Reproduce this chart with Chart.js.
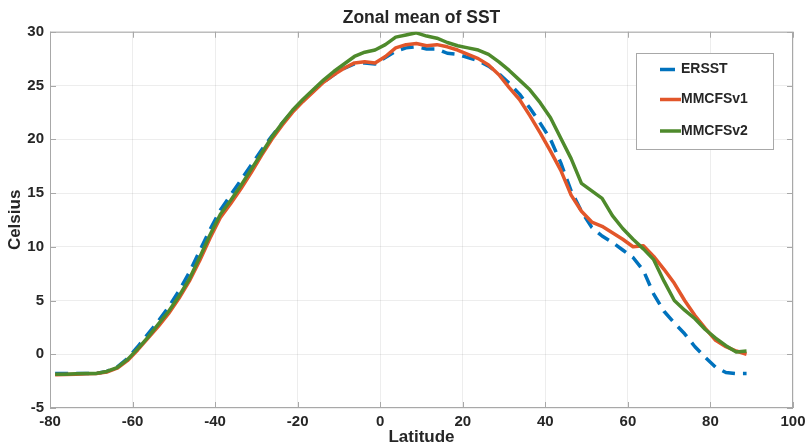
<!DOCTYPE html>
<html>
<head>
<meta charset="utf-8">
<script src="https://cdn.jsdelivr.net/npm/chart.js@4/dist/chart.umd.min.js"></script>
<style>
  html, body { margin: 0; padding: 0; background: #fff; }
  #wrap { width: 807px; height: 445px; }
</style>
</head>
<body>
<div id="wrap"><canvas id="chart1" width="807" height="445"></canvas></div>
<script>
// latitude grid (2.5 deg)
var latitude = [
  -78.75, -76.25, -73.75, -71.25, -68.75, -66.25, -63.75, -61.25, -58.75, -56.25,
  -53.75, -51.25, -48.75, -46.25, -43.75, -41.25, -38.75, -36.25, -33.75, -31.25,
  -28.75, -26.25, -23.75, -21.25, -18.75, -16.25, -13.75, -11.25, -8.75, -6.25,
  -3.75, -1.25, 1.25, 3.75, 6.25, 8.75, 11.25, 13.75, 16.25, 18.75,
  21.25, 23.75, 26.25, 28.75, 31.25, 33.75, 36.25, 38.75, 41.25, 43.75,
  46.25, 48.75, 51.25, 53.75, 56.25, 58.75, 61.25, 63.75, 66.25, 68.75,
  71.25, 73.75, 76.25, 78.75, 81.25, 83.75, 86.25, 88.75
];

var ersst = [
  -1.8, -1.8, -1.8, -1.8, -1.78, -1.6, -1.2, -0.4, 0.7, 1.9,
  3.1, 4.4, 5.9, 7.6, 9.6, 11.6, 13.4, 14.8, 16.2, 17.6,
  19.0, 20.3, 21.5, 22.6, 23.6, 24.5, 25.3, 26.0, 26.6, 27.0,
  27.1, 27.0, 27.6, 28.2, 28.5, 28.6, 28.4, 28.4, 28.0, 27.9,
  27.6, 27.3, 26.8, 26.1, 25.2, 24.2, 22.9, 21.5, 20.0, 17.8,
  15.2, 13.3, 11.8, 11.0, 10.4, 9.7, 9.0, 7.8, 5.6, 4.0,
  2.9, 1.9, 0.7, -0.3, -1.2, -1.7, -1.8, -1.8
];

var mmcfsv1 = [
  -1.9, -1.88, -1.85, -1.82, -1.8, -1.65, -1.3, -0.6, 0.4, 1.5,
  2.6, 3.8, 5.2, 6.8, 8.7, 10.8, 12.7, 14.0, 15.4, 16.9,
  18.5, 20.0, 21.3, 22.5, 23.5, 24.4, 25.3, 26.0, 26.6, 27.1,
  27.2, 27.1, 27.7, 28.5, 28.8, 28.9, 28.7, 28.8, 28.6, 28.3,
  27.9, 27.5, 26.9, 26.0, 24.8, 23.7, 22.2, 20.6, 18.9, 17.1,
  14.8, 13.3, 12.3, 11.9, 11.3, 10.7, 10.0, 10.1, 9.1, 7.9,
  6.6, 5.0, 3.6, 2.4, 1.3, 0.7, 0.3, 0.0
];

var mmcfsv2 = [
  -1.85, -1.85, -1.82, -1.8, -1.78, -1.6, -1.25, -0.5, 0.5, 1.6,
  2.8, 4.0, 5.4, 7.0, 9.0, 11.1, 13.0, 14.3, 15.7, 17.2,
  18.7, 20.2, 21.5, 22.7, 23.7, 24.6, 25.5, 26.3, 27.0, 27.7,
  28.1, 28.3, 28.8, 29.5, 29.7, 29.9, 29.6, 29.4, 29.0, 28.7,
  28.5, 28.3, 27.9, 27.2, 26.4, 25.5, 24.6, 23.4, 22.0, 20.1,
  18.2, 15.9, 15.2, 14.5, 12.9, 11.7, 10.7, 9.8, 8.8, 6.8,
  5.0, 4.1, 3.3, 2.3, 1.5, 0.8, 0.2, 0.3
];

var seriesNames = ['ERSST', 'MMCFSv1', 'MMCFSv2'];
var seriesColors = ['#0072BD', '#E2562A', '#4E8A2C'];
var textColor = '#262626';
var fontFamily = '"Liberation Sans", Arial, Helvetica, sans-serif';

function toPoints(values) {
    return values.map(function(v, i) { return { x: latitude[i], y: v }; });
}

// matlab style box with inward ticks
var boxPlugin = {
    id: 'boxPlugin',
    beforeDatasetsDraw: function(chart) {
        var ctx = chart.ctx, a = chart.chartArea;
        var xs = chart.scales.x, ys = chart.scales.y;
        ctx.save();
        ctx.strokeStyle = '#a8a8a8';
        ctx.lineWidth = 1;
        ctx.strokeRect(a.left + 0.5, a.top + 0.5, a.right - a.left - 1, a.bottom - a.top - 1);
        ctx.beginPath();
        xs.ticks.forEach(function(t) {
            var px = Math.round(xs.getPixelForValue(t.value)) + 0.5;
            ctx.moveTo(px, a.bottom); ctx.lineTo(px, a.bottom - 6);
            ctx.moveTo(px, a.top); ctx.lineTo(px, a.top + 6);
        });
        ys.ticks.forEach(function(t) {
            var py = Math.round(ys.getPixelForValue(t.value)) + 0.5;
            ctx.moveTo(a.left, py); ctx.lineTo(a.left + 6, py);
            ctx.moveTo(a.right, py); ctx.lineTo(a.right - 6, py);
        });
        ctx.stroke();
        ctx.restore();
    }
};

var legendPlugin = {
    id: 'boxLegend',
    afterDraw: function(chart) {
        var ctx = chart.ctx;
        var bx = 636, by = 53, bw = 137, bh = 96;
        ctx.save();
        ctx.fillStyle = '#fff';
        ctx.fillRect(bx, by, bw, bh);
        ctx.strokeStyle = '#a8a8a8';
        ctx.lineWidth = 1;
        ctx.strokeRect(bx + 0.5, by + 0.5, bw, bh);
        var rows = [69.5, 99.5, 131];
        chart.data.datasets.forEach(function(ds, i) {
            ctx.strokeStyle = ds.borderColor;
            ctx.lineWidth = 3.5;
            ctx.beginPath();
            if (i === 0) {
                ctx.moveTo(660, rows[i]); ctx.lineTo(675, rows[i]);
            } else {
                ctx.moveTo(660, rows[i]); ctx.lineTo(681, rows[i]);
            }
            ctx.stroke();
            ctx.fillStyle = textColor;
            ctx.font = 'bold 14px ' + fontFamily;
            ctx.textBaseline = 'middle';
            ctx.textAlign = 'left';
            ctx.fillText(ds.label, 681, rows[i]);
        });
        ctx.restore();
    }
};

new Chart(document.getElementById('chart1'), {
    type: 'line',
    data: {
        datasets: [
            { label: seriesNames[0], data: toPoints(ersst), borderColor: seriesColors[0], borderDash: [13, 8], order: 3 },
            { label: seriesNames[1], data: toPoints(mmcfsv1), borderColor: seriesColors[1], order: 2 },
            { label: seriesNames[2], data: toPoints(mmcfsv2), borderColor: seriesColors[2], order: 1 }
        ].map(function(ds) {
            ds.borderWidth = 3.5;
            ds.pointRadius = 0;
            ds.tension = 0;
            ds.fill = false;
            ds.borderJoinStyle = 'round';
            return ds;
        })
    },
    options: {
        responsive: false,
        animation: false,
        layout: { padding: { left: 0, right: 14, top: 0, bottom: 0 } },
        plugins: {
            legend: { display: false },
            tooltip: { enabled: false },
            title: {
                display: true,
                text: 'Zonal mean of SST',
                fullSize: false,
                color: textColor,
                font: { family: fontFamily, size: 17.5, weight: 'bold', lineHeight: 1.1 },
                padding: { top: 9, bottom: 3.5 }
            }
        },
        scales: {
            x: {
                type: 'linear',
                min: -80, max: 100,
                ticks: {
                    stepSize: 20, color: textColor, padding: 5,
                    font: { family: fontFamily, size: 15, weight: 'bold' }
                },
                grid: { color: 'rgba(0,0,0,0.07)', drawTicks: false },
                border: { display: false },
                title: {
                    display: true, text: 'Latitude', color: textColor,
                    font: { family: fontFamily, size: 17, weight: 'bold' },
                    padding: { top: 0, bottom: -3 }
                },
                afterFit: function(scale) {
                    scale.height = 37;
                    scale.paddingLeft = 0;
                    scale.paddingRight = 0;
                }
            },
            y: {
                min: -5, max: 30,
                ticks: {
                    stepSize: 5, color: textColor, padding: 6,
                    font: { family: fontFamily, size: 15, weight: 'bold' }
                },
                grid: { color: 'rgba(0,0,0,0.07)', drawTicks: false },
                border: { display: false },
                title: {
                    display: true, text: 'Celsius', color: textColor,
                    font: { family: fontFamily, size: 17, weight: 'bold' },
                    padding: { top: 5, bottom: 0 }
                },
                afterFit: function(scale) {
                    scale.width = 50;
                }
            }
        }
    },
    plugins: [boxPlugin, legendPlugin]
});
</script>
</body>
</html>
